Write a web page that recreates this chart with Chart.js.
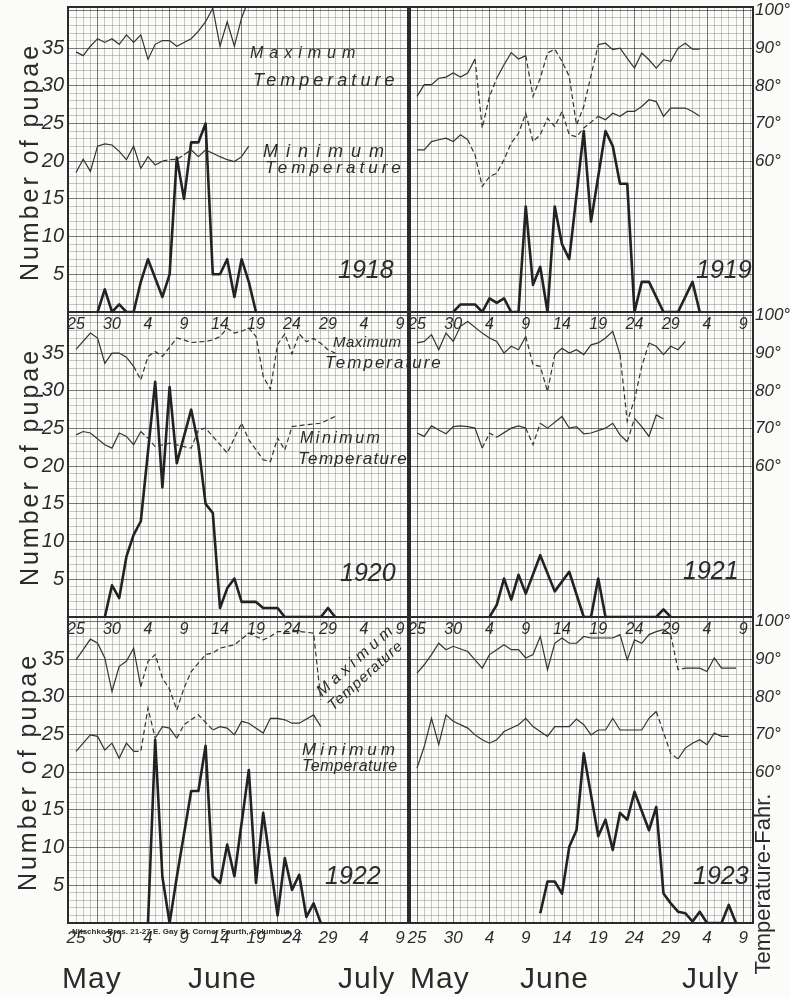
<!DOCTYPE html>
<html lang="en">
<head>
<meta charset="utf-8">
<title>Number of pupae and temperature, May 25 - July 9, 1918-1923</title>
<script src="https://cdn.jsdelivr.net/npm/chart.js@4.4.1/dist/chart.umd.min.js"></script>
<style>
  html, body { margin: 0; padding: 0; background: #fbfbf9; }
  #sheet { position: relative; width: 790px; height: 997px; overflow: hidden; }
  #sheet canvas { position: absolute; left: 0; top: 0; }
</style>
</head>
<body>
<div id="sheet"></div>
<script>
// One value per day: index 0 = May 25 ... index 45 = July 9.  null = nothing plotted that day.
const DATE_LABELS = ['25', '30', '4', '9', '14', '19', '24', '29', '4', '9'];
const MONTHS = ['May', 'June', 'July'];
const PUPAE_TICKS = [5, 10, 15, 20, 25, 30, 35];
const TEMP_TICKS = [60, 70, 80, 90, 100];

// 1918
const PUPAE_1918 = [null, null, null, 0, 3, 0, 1, 0, 0, 4, 7, null, 2, 5, 20.5, 15, 22.5, 22.5, 25, 5, 5, 7, 2, 7, 4, 0];
const MAX_1918 = [89, 88, 90.5, 92.5, 91.5, 92.5, 91, 93.5, 91.5, 93.5, 87, 91, 92, 92, 90.5, 91.5, 92.5, 94.5, 97, 100.6, 90.5, 97, 90.5, 98, 103];
const MIN_1918 = [57, 60.5, 57.3, 64, 64.6, 64.3, 62.6, 60.4, 64, 58.1, 61.2, 59, 60, 60.4, 60.5, 61.7, 63, 61.2, 63, 62.1, 61.2, 60.4, 59.9, 61.2, 64];

// 1919
const PUPAE_1919 = [null, null, null, null, null, 0, 1, 1, 1, 0, 1.8, 1.2, 1.8, 0, 0, 14, 3.6, 6, 0, 14,
  9, 7, null, 24, 12, null, 24, 22, 17, 17, 0, 4, 4, null, 0, null, 0, null, 4, 0];
const MAX_1919 = [77.2, 80.3, 80.3, 82, 82.3, 83.4, 82.3, 83.4, 87.1, 68.8, 77.2, 82, 85.6, 88.8, 87.1, 88, 77.2, 82, 88.7, 89.7,
  86.5, 82.5, 69.6, 74.5, null, 90.9, 91.3, 89.6, 90, 87.3, 84.7, 88.7, 86.9, 84.7, 86.9, 86.5, 90, 91.3, 89.7, 89.7];
const MIN_1919 = [63, 63, 65.2, 65.7, 66.1, 65.2, 67, 65.7, 61.7, 53.3, 55.9, 56.8, 60.4, 64.8, 67.4, 72.7, 65.2, 67, 71.4, 69.2,
  73.2, 67, 66.5, 68.8, null, 71.9, 71, 72.7, 71.9, 73.2, 73.2, 74.5, 76.3, 75.8, 71.9, 74.1, 74.1, 74.1, 73.2, 71.9];

// 1920
const PUPAE_1920 = [null, null, null, null, 0, 4.2, 2.5, 8, 10.9, 12.7, null, 31.2, 17.2, 30.5, 20.4, null, 27.5, 22.8, 15, 13.8,
  1.2, 3.8, 5.1, 2, 2, 2, 1.2, 1.2, 1.2, 0, null, null, null, null, 0, 1.2, 0];
const MAX_1920 = [91, null, 95.3, 94, 87.3, 90, 90, 88.9, 86.5, 82.9, 89.1, 90.4, 89.1, null, 94, 93.5, 92.8, null, 93.1, 93.5,
  94.4, 96.6, 95.3, 95.8, 96.6, 94.4, 83.8, 80.4, 92.3, 95.1, 89.8, 95.1, 93, 93.9, 92.6, 90.9, 90];
const MIN_1920 = [68.3, 69.2, 68.8, null, 65.7, 64.8, 68.8, 67.9, 65.7, 69.2, 67.4, 65.2, null, 66.1, null, 65.2, 64.8, 69.6, 70.1, 67.9,
  null, 63.5, null, 71.4, 67, null, 61.7, 61.2, 67.5, 64.3, 70.5, null, 71, null, 71.4, null, 73.2];

// 1921
const PUPAE_1921 = [null, null, null, null, null, null, null, null, null, null, 0, 1.6, 5.1, 2.3, 5.6, 3.1, null, 8.2, null, 3.4,
  null, 6, null, 0, 0, 5.1, 0, null, null, null, null, null, null, 0, 1, 0];
const MAX_1921 = [92.7, 93.1, 94.9, 90.9, 95.3, 93.1, 97.1, 98.4, null, 95.3, 94, 93.1, 90, 91.8, 90.9, 94.4, 86.9, 86.5, 79.8, 89.6,
  91.3, 90, 90.9, 89.6, 92.2, 92.7, 94, 95.8, 89.6, 71.9, 77.6, 86.5, 92.7, 91.8, 89.6, 91.8, 90.9, 93.1];
const MIN_1921 = [68.8, 67.9, 70.7, 69.6, 68.6, 70.5, 70.7, 70.5, 70.1, 64.8, 68.8, 67.7, null, 70.1, 70.7, 70.1, 65.7, 71.4, 70.1, null,
  73.2, 70.1, 70.5, 68.6, 68.8, null, 70.1, 71.4, 68.3, 66.5, 72.7, 70.5, 67.9, 73.6, 72.5];

// 1922
const PUPAE_1922 = [null, null, null, null, null, null, null, null, null, null, 0, 24.3, 6.1, 0, 6.1, null, 17.5, 17.5, 23.5, 6.2,
  5.3, 10.4, 6.2, null, 20.3, 5.3, 14.6, null, 1, 8.6, 4.4, 6.4, 0.8, 2.6, 0];
const MAX_1922 = [89.8, 92.5, 95.3, 94.2, 90.3, 81.4, 88.1, 89.4, 92.9, 82.7, 89.4, 91.2, 85, 82, 76.5, 82.3, 86.7, null, 91.2, 91.6,
  92.9, null, 93.8, 95.3, 96.9, 96, 95.1, 96, 97.3, null, 97.3, 97.3, null, 96.9, 79.2];
const MIN_1922 = [65.5, 67.7, 69.9, 69.5, 65.9, 67.7, 63.7, 67.7, 65.5, 65.5, 77, 69, 72.1, 71.7, 69, 72.6, null, 75.2, null, 71.2,
  72.1, 71.7, 69.9, 73.5, 73, null, 70.4, 74.3, 74.3, 73.9, 73, 73, null, 75.2, 72.1];

// 1923
const PUPAE_1923 = [null, null, null, null, null, null, null, null, null, null, null, null, null, null, null, null, null, 1.3, 5.5, 5.5,
  3.9, 10.1, 12.3, 22.5, null, 11.5, 13.7, 9.7, 14.6, 13.7, 17.4, null, 12.3, 15.4, 3.9, 2.6, 1.5, 1.3, 0.2, 1.5, 0, null, 0, 2.4, 0];
const MAX_1923 = [86.3, 88.5, 91.2, 94.2, 92.5, 93.4, null, 92, 89.8, 87.6, 91.2, 92.5, 93.8, 92.5, 92.5, 90.3, 91.2, 96, 87.2, 94.2,
  95.6, 94.2, 94.2, 96, 95.6, 95.6, null, 95.6, 96.5, 89.8, 95.1, 94.2, 96.5, 97.3, 97.8, 96.5, 87.2, 87.6, null, 87.6, 86.7, 90.3, 87.6, null, 87.6];
const MIN_1923 = [61.1, 66.8, 74.3, 67.3, 75.2, 73.5, null, 71.7, 69.9, 68.6, 67.7, 68.6, 70.8, null, 72.6, 74.3, 72.1, null, 69.5, 72.1,
  null, 72.1, 74.1, 72.6, 69.9, 71.2, 71.2, 74.3, 71.2, null, 71.2, 71.2, 74.3, 76.1, null, 65, 63.5, 66.4, 67.7, 68.6, 67.3, 70.4, 69.5, 69.5];

// ---- layout of the sheet (page pixels) ----
const PAGE_W = 790, PAGE_H = 997;
const ROW_TOP = [7, 312, 617];
const ROW_BOTTOM = [312, 617, 923];
const COL_LEFT = [68, 410];
const COL_RIGHT = [408, 753];
const DAY0_X = [76, 417];        // where May 25 sits in each column
const PX_PER_DAY = [7.2, 7.25];
const HEAVY_OFFSET = [3, 0];     // darker paper rulings every 5 squares
const PX_PER_PUPA = 7.54;

const INK = '#2b2b2b';
const HAND = '"Liberation Sans", "DejaVu Sans", sans-serif';
const MINOR = 'rgba(60, 60, 60, 0.27)';
const MAJOR = 'rgba(35, 35, 35, 0.6)';
const DASH = [5, 3];

Chart.defaults.font.family = HAND;
Chart.defaults.color = INK;

const PANELS = [
  { row: 0, col: 0, pupae: PUPAE_1918, max: MAX_1918, min: MIN_1918, maxDash: [], minDash: [[12, 15]] },
  { row: 0, col: 1, pupae: PUPAE_1919, max: MAX_1919, min: MIN_1919, maxDash: [[8, 11], [15, 25]], minDash: [[7, 25]] },
  { row: 1, col: 0, pupae: PUPAE_1920, max: MAX_1920, min: MIN_1920, maxDash: [[8, 37]], minDash: [[9, 37]] },
  { row: 1, col: 1, pupae: PUPAE_1921, max: MAX_1921, min: MIN_1921, maxDash: [[15, 19], [28, 32]], minDash: [[9, 11], [15, 17], [29, 30]] },
  { row: 2, col: 0, pupae: PUPAE_1922, max: MAX_1922, min: MIN_1922, maxDash: [[9, 35]], minDash: [[8, 11], [14, 19]] },
  { row: 2, col: 1, pupae: PUPAE_1923, max: MAX_1923, min: MIN_1923, maxDash: [[35, 37]], minDash: [[34, 36]] },
];

// hand lettering on the sheet
const NOTES = [
  { text: 'Number of pupae', x: 31, y: 162, size: 25, rot: -90, align: 'center', spacing: 3, style: 'normal' },
  { text: 'Number of pupae', x: 31, y: 467, size: 25, rot: -90, align: 'center', spacing: 3, style: 'normal' },
  { text: 'Number of pupae', x: 29, y: 772, size: 25, rot: -90, align: 'center', spacing: 3, style: 'normal' },
  { text: 'Temperature-Fahr.', x: 764, y: 884, size: 22, rot: -90, align: 'center', spacing: 0, style: 'normal' },
  { text: 'Maximum', x: 250, y: 58, size: 16, spacing: 6 },
  { text: 'Temperature', x: 253, y: 86, size: 18, spacing: 4 },
  { text: 'Minimum', x: 263, y: 157, size: 18, spacing: 8 },
  { text: 'Temperature', x: 265, y: 173, size: 17, spacing: 4 },
  { text: '1918', x: 338, y: 278, size: 25 },
  { text: '1919', x: 696, y: 278, size: 25 },
  { text: 'Maximum', x: 333, y: 347, size: 15, spacing: 0.5 },
  { text: 'Temperature', x: 325, y: 368, size: 17, spacing: 2 },
  { text: 'Minimum', x: 300, y: 443, size: 16, spacing: 2.5 },
  { text: 'Temperature', x: 298, y: 464, size: 17, spacing: 1.3 },
  { text: '1920', x: 340, y: 581, size: 25 },
  { text: '1921', x: 683, y: 579, size: 25 },
  { text: 'Maximum', x: 322, y: 697, size: 16, spacing: 4.5, rot: -42 },
  { text: 'Temperature', x: 333, y: 711, size: 15, spacing: 1, rot: -42 },
  { text: 'Minimum', x: 302, y: 755, size: 17, spacing: 4 },
  { text: 'Temperature', x: 302, y: 771, size: 16, spacing: 0.5 },
  { text: '1922', x: 325, y: 884, size: 25 },
  { text: '1923', x: 693, y: 884, size: 25 },
  { text: 'Nitschke Bros. 21-27 E. Gay St. Corner Fourth, Columbus, O.', x: 72, y: 934, size: 8, style: 'bold' },
  { text: MONTHS[0], x: 62, y: 988, size: 30, style: 'normal', spacing: 1 },
  { text: MONTHS[1], x: 188, y: 988, size: 30, style: 'normal', spacing: 1 },
  { text: MONTHS[2], x: 338, y: 988, size: 30, style: 'normal', spacing: 1 },
  { text: MONTHS[0], x: 410, y: 988, size: 30, style: 'normal', spacing: 1 },
  { text: MONTHS[1], x: 520, y: 988, size: 30, style: 'normal', spacing: 1 },
  { text: MONTHS[2], x: 682, y: 988, size: 30, style: 'normal', spacing: 1 },
];

const framePlugin = {
  id: 'frame',
  beforeDatasetsDraw(chart) {
    const { ctx, chartArea: a } = chart;
    ctx.save();
    ctx.strokeStyle = INK;
    ctx.lineWidth = 2;
    ctx.strokeRect(a.left, a.top, a.right - a.left, a.bottom - a.top);
    ctx.restore();
  }
};

const notesPlugin = {
  id: 'notes',
  afterDraw(chart) {
    const ctx = chart.ctx;
    NOTES.forEach(n => {
      ctx.save();
      ctx.font = `${n.style || 'italic'} ${n.size}px ${HAND}`;
      ctx.fillStyle = INK;
      ctx.textAlign = n.align || 'left';
      ctx.textBaseline = n.align === 'center' ? 'middle' : 'alphabetic';
      if ('letterSpacing' in ctx) ctx.letterSpacing = (n.spacing || 0) + 'px';
      ctx.translate(n.x, n.y);
      ctx.rotate((n.rot || 0) * Math.PI / 180);
      ctx.fillText(n.text, 0, 0);
      ctx.restore();
    });
  }
};

const inRanges = (x, ranges) => ranges.some(([a, b]) => x >= a && x <= b);
const toPoints = values => values.map((v, d) => ({ x: d, y: v }));

function tempLine(values, dashRanges) {
  return {
    data: toPoints(values),
    yAxisID: 't',
    borderColor: '#333',
    borderWidth: 1.2,
    spanGaps: true,
    pointRadius: 0,
    segment: {
      borderDash: c => inRanges((c.p0.parsed.x + c.p1.parsed.x) / 2, dashRanges) ? DASH : undefined
    }
  };
}

// no label overhang, so the plot area sits exactly on the panel
function noOverhang(s) {
  s.paddingTop = 0;
  s.paddingBottom = 0;
  s.paddingLeft = 0;
  s.paddingRight = 0;
}

function makePanel(p, withNotes) {
  const L = COL_LEFT[p.col], R = COL_RIGHT[p.col];
  const T = ROW_TOP[p.row], B = ROW_BOTTOM[p.row];
  const x0 = DAY0_X[p.col];
  const pxDay = PX_PER_DAY[p.col];
  const pupaeMax = (B - T) / PX_PER_PUPA;
  const isLeft = p.col === 0;
  const lastRow = p.row === 2;

  const canvas = document.createElement('canvas');
  canvas.width = PAGE_W;
  canvas.height = PAGE_H;
  canvas.style.width = PAGE_W + 'px';
  canvas.style.height = PAGE_H + 'px';
  document.getElementById('sheet').appendChild(canvas);

  const fitX = s => { s.height = PAGE_H - B; noOverhang(s); };
  const fitY = s => { s.width = L; noOverhang(s); };
  const fitT = s => { s.width = PAGE_W - R; noOverhang(s); };

  return new Chart(canvas, {
    type: 'line',
    data: {
      datasets: [
        tempLine(p.max, p.maxDash),
        tempLine(p.min, p.minDash),
        {
          data: toPoints(p.pupae),
          yAxisID: 'y',
          borderColor: '#222',
          borderWidth: 2.6,
          borderJoinStyle: 'round',
          spanGaps: true,
          pointRadius: 0
        }
      ]
    },
    options: {
      responsive: false,
      animation: false,
      devicePixelRatio: 1,
      layout: { padding: { left: 0, top: T, right: 0, bottom: 0 } },
      plugins: { legend: { display: false }, tooltip: { enabled: false } },
      elements: { line: { tension: 0 } },
      scales: {
        x: {
          type: 'linear',
          position: 'bottom',
          min: (L - x0) / pxDay,
          max: (R - x0) / pxDay,
          afterFit: fitX,
          border: { display: false },
          grid: {
            drawTicks: false,
            color: c => (((c.tick.value - HEAVY_OFFSET[p.col]) % 5) + 5) % 5 === 0 ? MAJOR : MINOR,
            lineWidth: 1
          },
          ticks: {
            stepSize: 1,
            autoSkip: false,
            includeBounds: false,
            maxRotation: 0,
            padding: lastRow ? 5 : 3,
            font: { size: lastRow ? 17 : 16, style: 'italic' },
            callback: v => (Number.isInteger(v) && v >= 0 && v % 5 === 0 && v / 5 < DATE_LABELS.length) ? DATE_LABELS[v / 5] : ''
          }
        },
        y: {
          type: 'linear',
          position: 'left',
          min: 0,
          max: pupaeMax,
          afterFit: fitY,
          border: { display: false },
          grid: {
            drawTicks: false,
            color: c => c.tick.value % 5 === 0 ? MAJOR : MINOR,
            lineWidth: 1
          },
          ticks: {
            display: isLeft,
            stepSize: 1,
            autoSkip: false,
            includeBounds: false,
            padding: 4,
            font: { size: 20, style: 'italic' },
            callback: v => PUPAE_TICKS.includes(v) ? String(v) : ''
          }
        },
        t: {
          type: 'linear',
          position: 'right',
          display: !isLeft,
          min: 20,
          max: 20 + 2 * pupaeMax,
          afterFit: fitT,
          border: { display: false },
          grid: { display: false, drawTicks: false },
          ticks: {
            stepSize: 10,
            autoSkip: false,
            includeBounds: false,
            padding: 2,
            font: { size: 17, style: 'italic' },
            callback: v => TEMP_TICKS.includes(v) ? v + '\u00b0' : ''
          }
        }
      }
    },
    plugins: withNotes ? [framePlugin, notesPlugin] : [framePlugin]
  });
}

// bottom row first so the date labels of each row sit on top of the paper below it
const order = [4, 5, 2, 3, 0, 1];
order.forEach((idx, i) => makePanel(PANELS[idx], i === order.length - 1));
</script>
</body>
</html>
